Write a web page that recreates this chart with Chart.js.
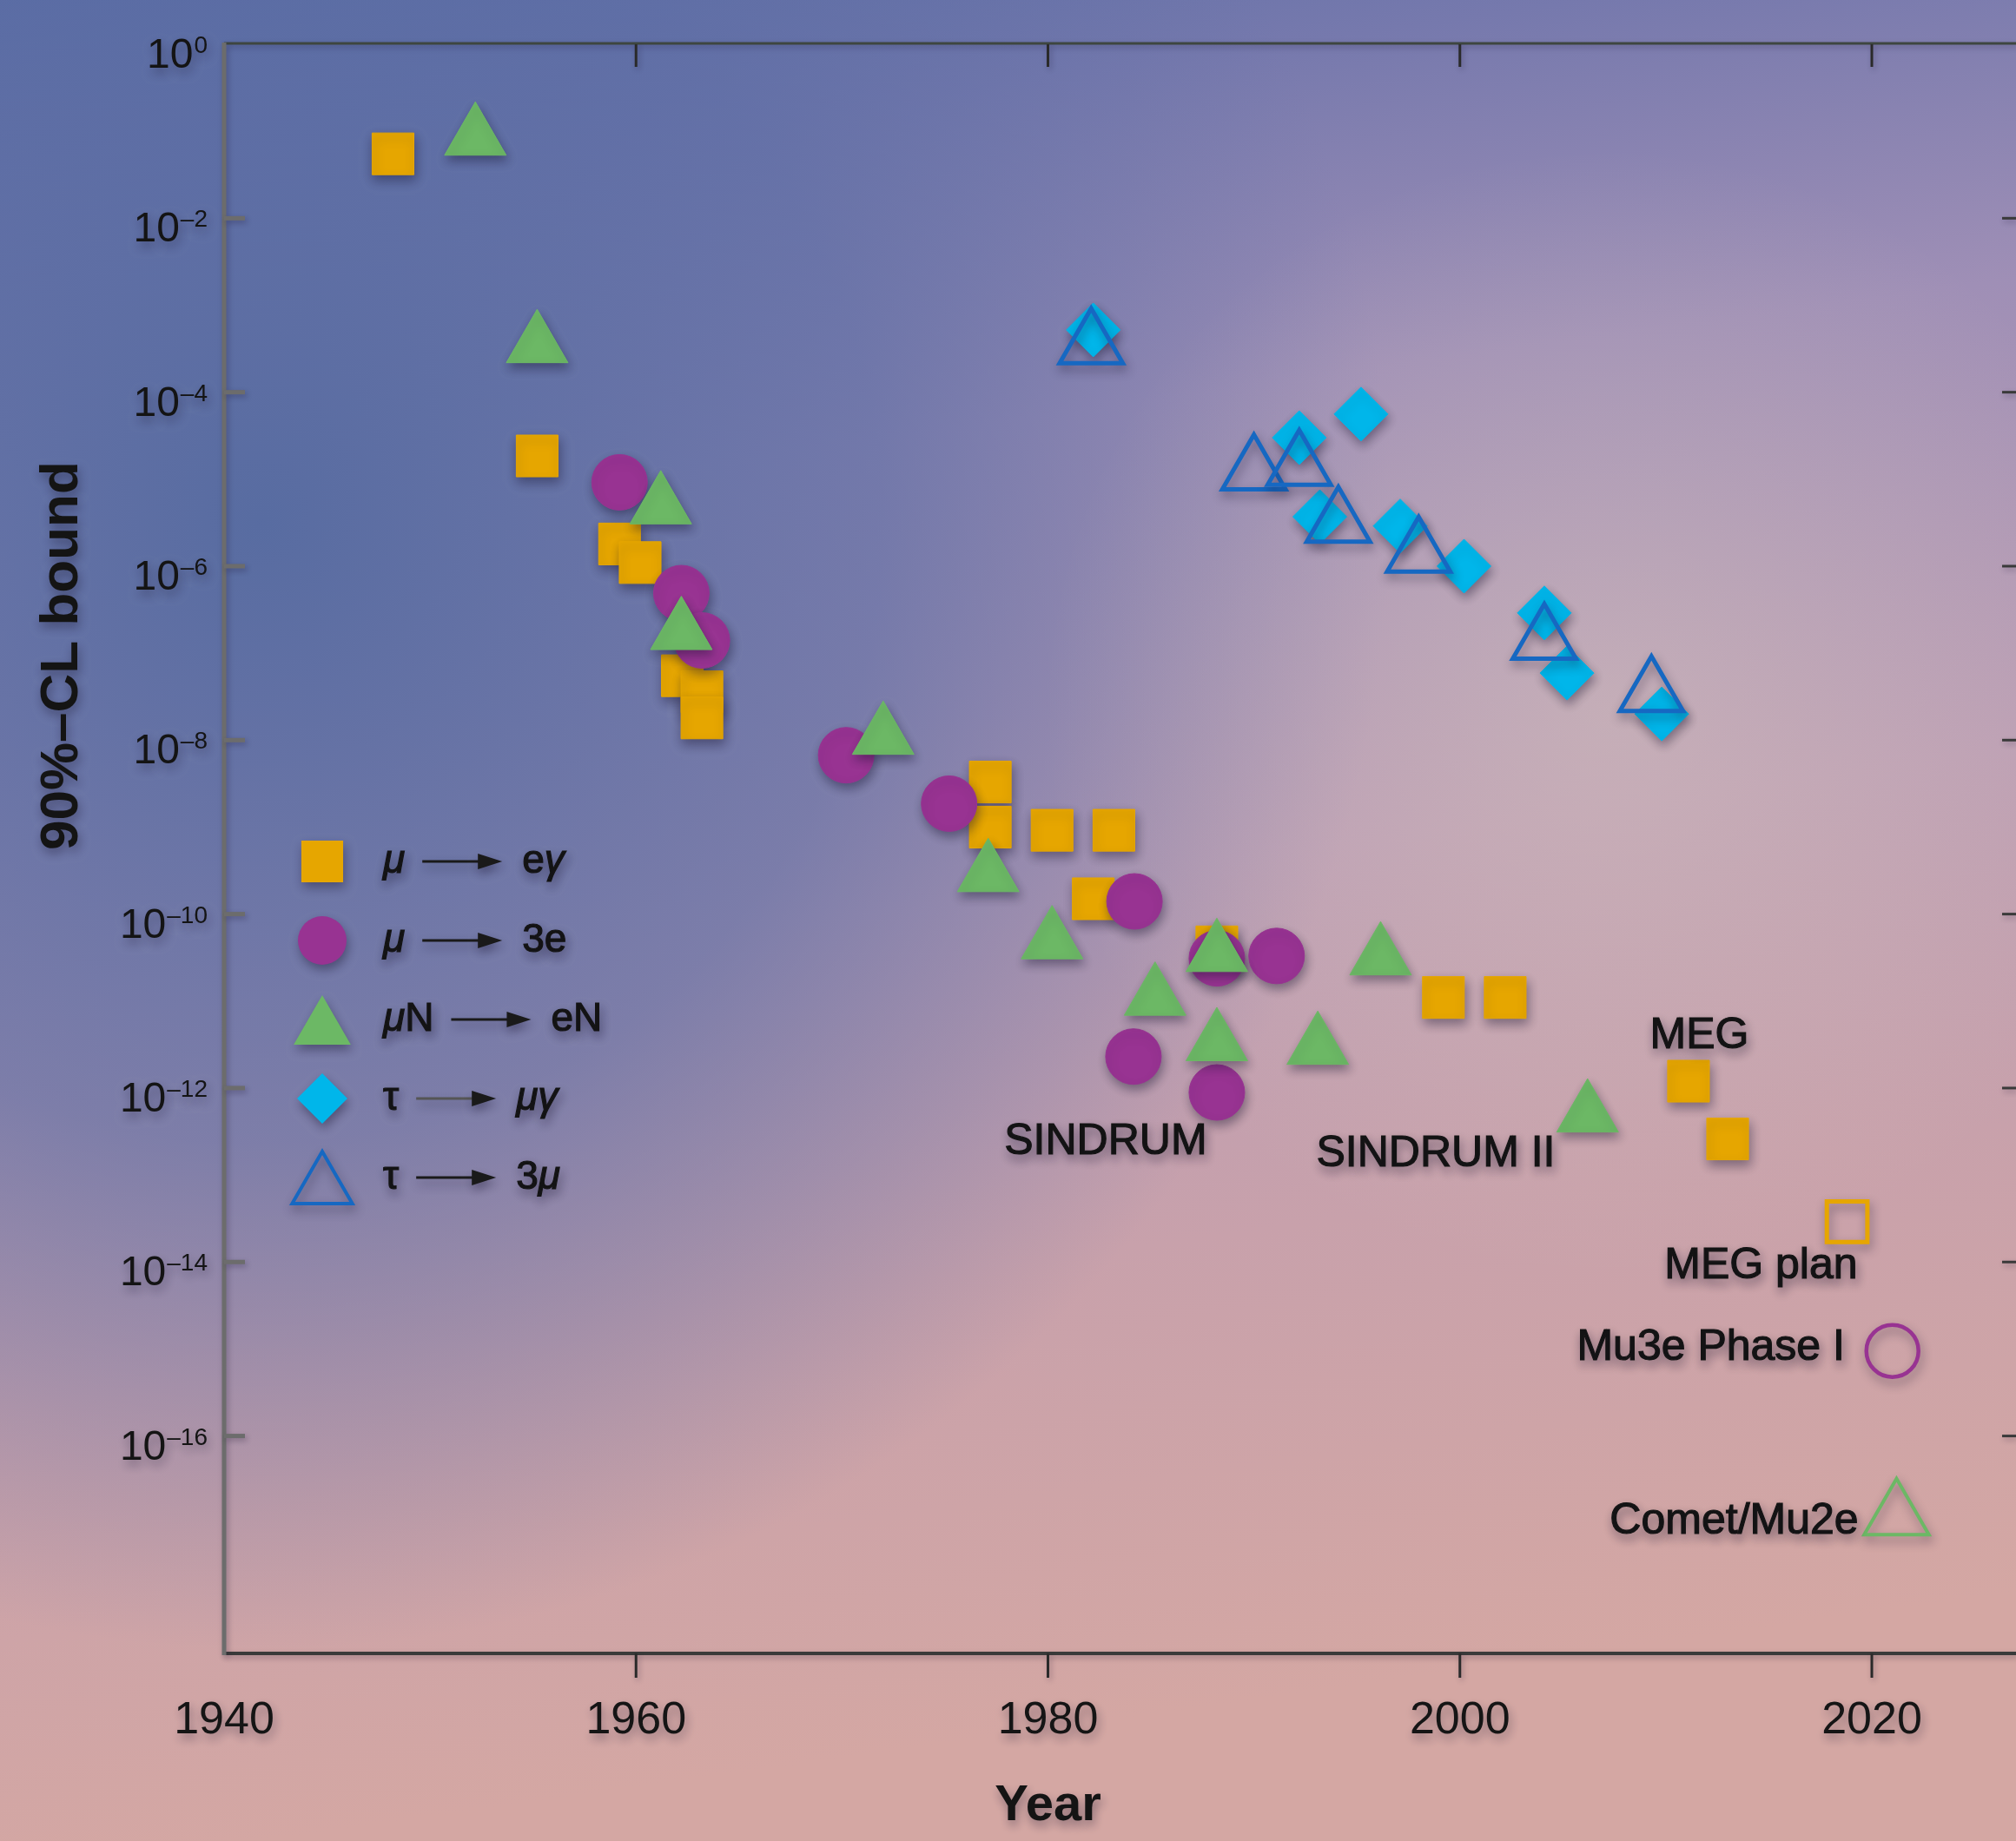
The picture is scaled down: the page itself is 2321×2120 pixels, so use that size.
<!DOCTYPE html>
<html>
<head>
<meta charset="utf-8">
<script src="https://cdn.jsdelivr.net/npm/chart.js@4.4.1/dist/chart.umd.min.js"></script>
<style>
  html, body { margin: 0; padding: 0; background: #9a8cb2; }
  #wrap { width: 2321px; height: 2120px; }
</style>
</head>
<body>
<div id="wrap"><canvas id="clfv" width="2321" height="2120"></canvas></div>
<script>
// mu -> e gamma
const muEgYears  = [1948.2, 1955.2, 1959.2, 1960.2, 1962.25, 1963.2, 1963.2, 1977.2, 1977.2, 1980.2, 1983.2, 1982.2, 1988.2, 1999.2, 2002.2, 2011.1, 2013.0];
const muEgBounds = [5.5e-2, 1.85e-5, 1.8e-6, 1.1e-6, 5.5e-8, 3.6e-8, 1.8e-8, 3.3e-9, 1.0e-9, 9.2e-10, 9.2e-10, 1.5e-10, 4.2e-11, 1.1e-11, 1.1e-11, 1.2e-12, 2.6e-13];

// mu -> 3e
const mu3eYears  = [1959.2, 1962.2, 1963.2, 1970.2, 1975.2, 1984.2, 1988.2, 1991.1, 1984.15, 1988.2];
const mu3eBounds = [9.2e-6, 4.9e-7, 1.4e-7, 6.7e-9, 1.86e-9, 1.4e-10, 3.1e-11, 3.3e-11, 2.3e-12, 8.9e-13];

// mu N -> e N
const muNeYears  = [1952.2, 1955.2, 1961.2, 1962.2, 1972.0, 1977.1, 1980.2, 1985.2, 1988.2, 1988.2, 1993.1, 1996.15, 2006.2];
const muNeBounds = [8.5e-2, 3.5e-4, 4.9e-6, 1.76e-7, 1.1e-8, 2.9e-10, 4.9e-11, 1.1e-11, 3.5e-11, 3.3e-12, 3.0e-12, 3.2e-11, 5.0e-13];

// tau -> mu gamma
const tauMgYears  = [1982.2, 1992.2, 1995.2, 1993.2, 1997.1, 2000.2, 2004.1, 2005.2, 2009.8];
const tauMgBounds = [5.2e-4, 3.0e-5, 5.6e-5, 3.7e-6, 2.9e-6, 1.0e-6, 2.9e-7, 5.9e-8, 2.0e-8];

// tau -> 3 mu
const tau3mYears  = [1982.1, 1990.0, 1992.2, 1994.1, 1998.0, 2004.1, 2009.3];
const tau3mBounds = [3.5e-4, 1.24e-5, 1.4e-5, 3.1e-6, 1.4e-6, 1.4e-7, 3.5e-8];

// planned sensitivities
const megPlanYear = [2018.8];   const megPlanBound = [2.9e-14];
const mu3ePlanYear = [2021.0];  const mu3ePlanBound = [9.5e-16];
const cometPlanYear = [2021.2]; const cometPlanBound = [1.2e-17];

const xTicks = [1940, 1960, 1980, 2000, 2020];
const yTickExps = [0, -2, -4, -6, -8, -10, -12, -14, -16];

const notes = [
  { text: 'SINDRUM',      year: 1982.8,  exp: -12.62, align: 'center' },
  { text: 'SINDRUM II',   year: 1998.83, exp: -12.76, align: 'center' },
  { text: 'MEG',          year: 2011.63, exp: -11.40, align: 'center' },
  { text: 'MEG plan',     year: 2014.62, exp: -14.05, align: 'center' },
  { text: 'Mu3e Phase I', year: 2018.69, exp: -14.99, align: 'right' },
  { text: 'Comet/Mu2e',   year: 2019.35, exp: -16.98, align: 'right' }
];

const legendRows = [
  { left: [['μ', true]],             right: [['e', false], ['γ', true]] },
  { left: [['μ', true]],             right: [['3e', false]] },
  { left: [['μ', true], ['N', false]], right: [['eN', false]] },
  { left: [['τ', false]],            right: [['μγ', true]] },
  { left: [['τ', false]],            right: [['3', false], ['μ', true]] }
];

const ORANGE = '#e6a600';
const PURPLE = '#983392';
const GREEN  = '#6cb865';
const CYAN   = '#00b6ea';
const BLUE   = '#1668c2';
const FONT = '"Liberation Sans", Arial, sans-serif';

const pts = (xs, ys) => xs.map((x, i) => ({ x: x, y: ys[i] }));

function marker(ctx, style, x, y, r, fill, stroke, lw) {
  ctx.beginPath();
  if (style === 'rect') {
    const s = r * Math.SQRT1_2;
    ctx.rect(x - s, y - s, 2 * s, 2 * s);
  } else if (style === 'circle') {
    ctx.arc(x, y, r, 0, Math.PI * 2);
  } else if (style === 'triangle') {
    ctx.moveTo(x, y - r);
    ctx.lineTo(x + r * 0.866, y + r / 2);
    ctx.lineTo(x - r * 0.866, y + r / 2);
    ctx.closePath();
  } else if (style === 'rectRot') {
    ctx.moveTo(x - r, y); ctx.lineTo(x, y - r); ctx.lineTo(x + r, y); ctx.lineTo(x, y + r);
    ctx.closePath();
  }
  if (fill) { ctx.fillStyle = fill; ctx.fill(); }
  if (stroke) { ctx.strokeStyle = stroke; ctx.lineWidth = lw; ctx.stroke(); }
}

// text with a thin outline so it reads a touch heavier
function heavyText(ctx, t, x, y) {
  ctx.fillText(t, x, y);
  ctx.strokeStyle = ctx.fillStyle;
  ctx.lineWidth = 1.2;
  ctx.strokeText(t, x, y);
}

function segs(ctx, list, x, y, size) {
  list.forEach(([t, it]) => {
    ctx.font = (it ? 'italic ' : '') + size + 'px ' + FONT;
    heavyText(ctx, t, x, y);
    x += ctx.measureText(t).width;
  });
  return x;
}

const decor = {
  id: 'decor',
  beforeDraw(chart) {
    const { ctx, width, height } = chart;
    ctx.save();
    const g = ctx.createLinearGradient(0, 0, 300, height);
    g.addColorStop(0.00, '#5d6ea6');
    g.addColorStop(0.12, '#7679ad');
    g.addColorStop(0.30, '#9f8fb6');
    g.addColorStop(0.55, '#bb9db4');
    g.addColorStop(0.75, '#c8a1ab');
    g.addColorStop(1.00, '#d4a7a3');
    ctx.fillStyle = g;
    ctx.fillRect(0, 0, width, height);
    let rg = ctx.createRadialGradient(300, 600, 0, 300, 600, 1300);
    rg.addColorStop(0, 'rgba(84,106,160,0.95)');
    rg.addColorStop(0.55, 'rgba(90,108,164,0.65)');
    rg.addColorStop(1, 'rgba(95,110,165,0)');
    ctx.fillStyle = rg;
    ctx.fillRect(0, 0, width, height);
    rg = ctx.createRadialGradient(1850, 820, 0, 1850, 820, 650);
    rg.addColorStop(0, 'rgba(225,210,190,0.35)');
    rg.addColorStop(1, 'rgba(225,210,190,0)');
    ctx.fillStyle = rg;
    ctx.fillRect(0, 0, width, height);
    ctx.shadowColor = 'rgba(25,18,45,0.42)';
    ctx.shadowBlur = 12;
    ctx.shadowOffsetX = 2;
    ctx.shadowOffsetY = 6;
  },
  beforeDatasetsDraw(chart) {
    const { ctx, chartArea: a } = chart;
    const xs = chart.scales.x, ys = chart.scales.y;
    ctx.save();
    ctx.shadowBlur = 6; ctx.shadowOffsetY = 3; ctx.shadowColor = 'rgba(25,18,45,0.3)';
    ctx.lineCap = 'butt';
    const line = (x1, y1, x2, y2, c, w) => {
      ctx.beginPath(); ctx.moveTo(x1, y1); ctx.lineTo(x2, y2);
      ctx.strokeStyle = c; ctx.lineWidth = w; ctx.stroke();
    };
    line(a.left, a.top - 1, a.right, a.top - 1, '#3e4640', 3);
    line(a.left, a.bottom, a.right, a.bottom, '#3a3a3a', 4);
    line(a.left, a.top - 2, a.left, a.bottom + 2, '#6c6c6c', 5);
    ys.ticks.forEach(t => {
      const y = ys.getPixelForValue(t.value);
      if (Math.abs(y - a.top) < 3) return;
      line(a.left, y, a.left + 24, y, '#6c6c6c', 5);
      line(a.right - 16, y, a.right, y, '#3a3a3a', 3);
    });
    xs.ticks.forEach(t => {
      const x = xs.getPixelForValue(t.value);
      if (Math.abs(x - a.left) < 3) return;
      line(x, a.top, x, a.top + 26, '#2a2a2a', 3);
      line(x, a.bottom, x, a.bottom + 28, '#2a2a2a', 3);
    });
    ctx.restore();
  },
  afterDraw(chart) {
    const { ctx, chartArea: a } = chart;
    const xs = chart.scales.x, ys = chart.scales.y;
    ctx.fillStyle = '#141414';

    // y tick labels: 10 with superscript exponent
    ctx.textAlign = 'right';
    ctx.textBaseline = 'alphabetic';
    yTickExps.forEach(e => {
      const py = ys.getPixelForValue(Math.pow(10, e));
      const sup = e === 0 ? '0' : '–' + (-e);
      ctx.font = '28px ' + FONT;
      const sw = ctx.measureText(sup).width;
      ctx.fillText(sup, a.left - 19, py + 10);
      ctx.font = '48px ' + FONT;
      ctx.fillText('10', a.left - 20 - sw, py + 27);
    });

    // axis titles
    ctx.textAlign = 'center';
    ctx.textBaseline = 'middle';
    ctx.font = 'bold 58px ' + FONT;
    ctx.fillText('Year', xs.getPixelForValue(1980), 2080);
    ctx.save();
    ctx.translate(72, ys.getPixelForValue(Math.pow(10, -7.03)));
    ctx.rotate(-Math.PI / 2);
    ctx.font = 'bold 62px ' + FONT;
    ctx.fillText('90%–CL bound', 0, 0);
    ctx.restore();

    // annotations
    ctx.font = '50px ' + FONT;
    notes.forEach(n => {
      ctx.textAlign = n.align;
      ctx.fillStyle = '#141414';
      heavyText(ctx, n.text, xs.getPixelForValue(n.year), ys.getPixelForValue(Math.pow(10, n.exp)));
    });

    // legend
    const lx = 371, ly0 = 992, gap = 91;
    legendRows.forEach((row, i) => {
      const ds = chart.data.datasets[i];
      const y = ly0 + gap * i;
      const st = ds.pointStyle;
      const r = { rect: 34, circle: 28, triangle: 38, rectRot: 29 }[st];
      if (ds.pointBackgroundColor === 'rgba(0,0,0,0)') {
        marker(ctx, st, lx, y + 10, 40, null, ds.pointBorderColor, 4);
      } else {
        marker(ctx, st, lx, st === 'triangle' ? y + 10 : y, r, ds.pointBackgroundColor, null, 0);
      }
      ctx.fillStyle = '#141414';
      ctx.textAlign = 'left';
      ctx.textBaseline = 'middle';
      let x = segs(ctx, row.left, 441, y, 46) + 20;
      ctx.beginPath(); ctx.moveTo(x, y); ctx.lineTo(x + 70, y);
      ctx.strokeStyle = i === 3 ? '#555' : '#1a1a1a'; ctx.lineWidth = 3; ctx.stroke();
      ctx.beginPath(); ctx.moveTo(x + 64, y - 9); ctx.lineTo(x + 92, y); ctx.lineTo(x + 64, y + 9); ctx.closePath();
      ctx.fillStyle = '#1a1a1a'; ctx.fill();
      ctx.fillStyle = '#141414';
      segs(ctx, row.right, x + 115, y, 46);
    });
    ctx.restore();
  }
};

new Chart(document.getElementById('clfv'), {
  type: 'scatter',
  data: {
    datasets: [
      { label: 'μ → eγ', data: pts(muEgYears, muEgBounds), pointStyle: 'rect', pointRadius: 34,
        pointBackgroundColor: ORANGE, pointBorderColor: ORANGE, pointBorderWidth: 1, order: 5 },
      { label: 'μ → 3e', data: pts(mu3eYears, mu3eBounds), pointStyle: 'circle', pointRadius: 32,
        pointBackgroundColor: PURPLE, pointBorderColor: PURPLE, pointBorderWidth: 1, order: 4 },
      { label: 'μN → eN', data: pts(muNeYears, muNeBounds), pointStyle: 'triangle', pointRadius: 41,
        pointBackgroundColor: GREEN, pointBorderColor: GREEN, pointBorderWidth: 1, order: 3 },
      { label: 'τ → μγ', data: pts(tauMgYears, tauMgBounds), pointStyle: 'rectRot', pointRadius: 31,
        pointBackgroundColor: CYAN, pointBorderColor: CYAN, pointBorderWidth: 1, order: 2 },
      { label: 'τ → 3μ', data: pts(tau3mYears, tau3mBounds), pointStyle: 'triangle', pointRadius: 42,
        pointBackgroundColor: 'rgba(0,0,0,0)', pointBorderColor: BLUE, pointBorderWidth: 5, order: 1 },
      { label: 'MEG plan', data: pts(megPlanYear, megPlanBound), pointStyle: 'rect', pointRadius: 33,
        pointBackgroundColor: 'rgba(0,0,0,0)', pointBorderColor: ORANGE, pointBorderWidth: 5, order: 1 },
      { label: 'Mu3e Phase I', data: pts(mu3ePlanYear, mu3ePlanBound), pointStyle: 'circle', pointRadius: 30,
        pointBackgroundColor: 'rgba(0,0,0,0)', pointBorderColor: PURPLE, pointBorderWidth: 4.5, order: 1 },
      { label: 'Comet/Mu2e', data: pts(cometPlanYear, cometPlanBound), pointStyle: 'triangle', pointRadius: 43,
        pointBackgroundColor: 'rgba(0,0,0,0)', pointBorderColor: GREEN, pointBorderWidth: 4, order: 1 }
    ]
  },
  options: {
    responsive: false,
    devicePixelRatio: 1,
    animation: false,
    events: [],
    layout: { autoPadding: false, padding: { top: 51, right: 0, bottom: 0, left: 0 } },
    plugins: { legend: { display: false }, tooltip: { enabled: false } },
    scales: {
      x: {
        type: 'linear', min: 1940, max: 2027,
        afterBuildTicks: s => { s.ticks = xTicks.map(v => ({ value: v })); },
        afterFit: s => { s.height = 216; s.paddingLeft = 0; s.paddingRight = 0; },
        grid: { display: false, drawTicks: false },
        border: { display: false },
        ticks: { font: { family: 'Liberation Sans', size: 52 }, color: '#151515', padding: 46,
                 maxRotation: 0, autoSkip: false, callback: v => String(v) }
      },
      y: {
        type: 'logarithmic', min: Math.pow(10, -18.5), max: 1,
        afterBuildTicks: s => { s.ticks = yTickExps.map(e => ({ value: Math.pow(10, e) })); },
        afterFit: s => { s.width = 258; s.paddingTop = 0; s.paddingBottom = 0; },
        grid: { display: false, drawTicks: false },
        border: { display: false },
        ticks: { display: false }
      }
    }
  },
  plugins: [decor]
});
</script>
</body>
</html>
